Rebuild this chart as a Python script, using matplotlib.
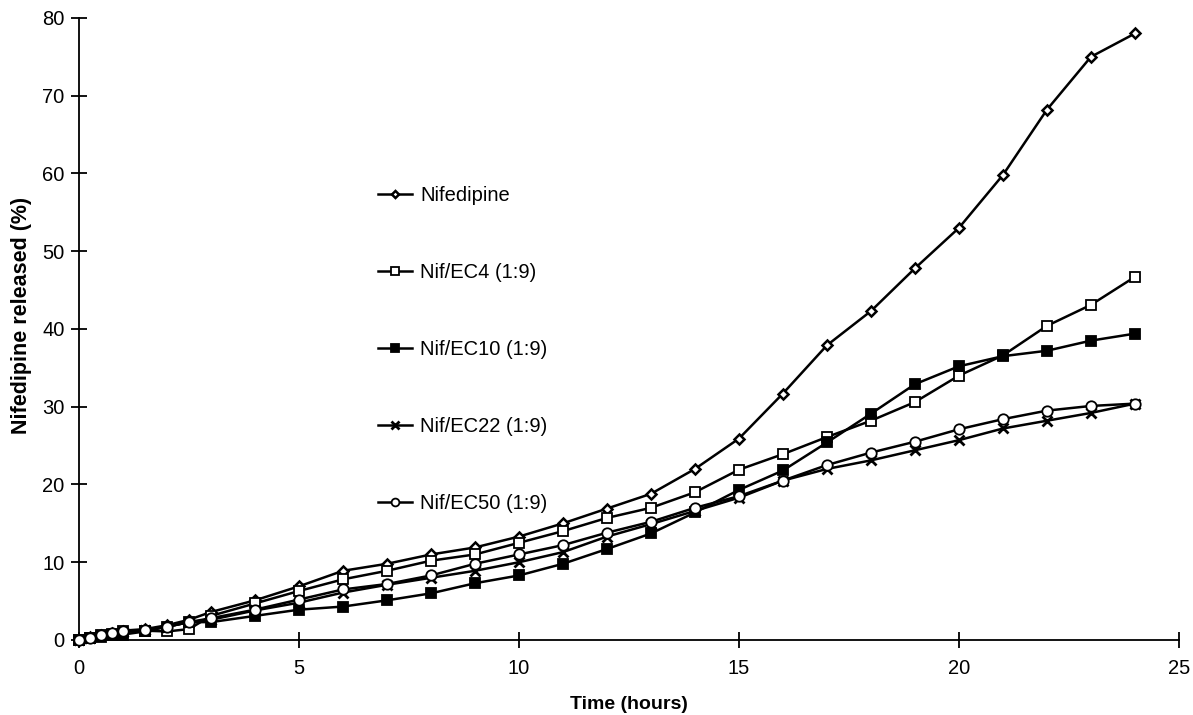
import matplotlib
matplotlib.use("Agg")
import matplotlib.pyplot as plt

time_h = [0, 0.25, 0.5, 0.75, 1, 1.5, 2, 2.5, 3, 4, 5, 6, 7, 8, 9, 10, 11, 12,
          13, 14, 15, 16, 17, 18, 19, 20, 21, 22, 23, 24]

nifedipine = [0, 0.4, 0.7, 0.9, 1.2, 1.4, 1.9, 2.6, 3.6, 5.1, 6.9, 8.9, 9.8, 11.0,
              11.9, 13.3, 15.0, 16.9, 18.8, 22.0, 25.9, 31.7, 37.9, 42.3, 47.8,
              53.0, 59.8, 68.2, 75.0, 78.0]
nif_ec4 = [0, 0.3, 0.6, 0.8, 1.1, 1.2, 1.1, 1.4, 3.1, 4.7, 6.3, 7.8, 8.9, 10.2,
           11.0, 12.5, 14.0, 15.7, 17.0, 19.0, 21.9, 23.9, 26.1, 28.2, 30.6,
           34.0, 36.6, 40.4, 43.1, 46.7]
nif_ec10 = [0, 0.2, 0.4, 0.6, 0.7, 1.1, 1.7, 2.3, 2.3, 3.1, 3.9, 4.3, 5.1, 6.0,
            7.3, 8.3, 9.8, 11.7, 13.7, 16.4, 19.3, 21.8, 25.4, 29.1, 32.9, 35.2,
            36.5, 37.2, 38.5, 39.4]
nif_ec22 = [0, 0.3, 0.6, 0.8, 1.0, 1.3, 1.7, 2.3, 2.6, 3.8, 4.8, 6.1, 7.1, 8.0,
            8.9, 10.0, 11.3, 13.3, 14.9, 16.6, 18.3, 20.5, 22.0, 23.1, 24.4, 25.7,
            27.2, 28.2, 29.2, 30.4]
nif_ec50 = [0, 0.3, 0.6, 0.9, 1.1, 1.3, 1.7, 2.3, 2.8, 3.9, 5.2, 6.5, 7.2, 8.3,
            9.8, 11.0, 12.2, 13.8, 15.2, 17.0, 18.5, 20.5, 22.5, 24.1, 25.5, 27.1,
            28.4, 29.5, 30.1, 30.4]

series_labels = ["Nifedipine", "Nif/EC4 (1:9)", "Nif/EC10 (1:9)",
                 "Nif/EC22 (1:9)", "Nif/EC50 (1:9)"]
x_ticks = [0, 5, 10, 15, 20, 25]
y_ticks = [0, 10, 20, 30, 40, 50, 60, 70, 80]

plt.rcParams['font.family'] = ['Liberation Sans', 'DejaVu Sans']

fig = plt.figure(figsize=(11.93, 7.15), dpi=100)
ax = fig.add_axes([0.0662, 0.1049, 0.922, 0.870])

styles = [
    dict(marker='D', markersize=4.8, markerfacecolor='white', markeredgewidth=1.8),
    dict(marker='s', markersize=7, markerfacecolor='white', markeredgewidth=1.3),
    dict(marker='s', markersize=7, markerfacecolor='black', markeredgewidth=1.3),
    dict(marker='x', markersize=7, markeredgewidth=2.0),
    dict(marker='o', markersize=7.5, markerfacecolor='white', markeredgewidth=1.3),
]
all_series = [nifedipine, nif_ec4, nif_ec10, nif_ec22, nif_ec50]
for ys, lab, st in zip(all_series, series_labels, styles):
    ax.plot(time_h, ys, color='black', linewidth=1.8, markeredgecolor='black',
            label=lab, clip_on=False, zorder=3, **st)

ax.set_xlim(0, 25)
ax.set_ylim(0, 80)
ax.set_xticks(x_ticks)
ax.set_yticks(y_ticks)
ax.spines['top'].set_visible(False)
ax.spines['right'].set_visible(False)
ax.spines['left'].set_linewidth(1.3)
ax.spines['bottom'].set_linewidth(1.3)
ax.tick_params(axis='both', direction='inout', length=11, width=1.3,
               labelsize=14.5)
ax.tick_params(axis='y', pad=5)
ax.tick_params(axis='x', pad=8)

ax.set_xlabel("Time (hours)", fontsize=14, fontweight='bold', labelpad=13)
ax.set_ylabel("Nifedipine released (%)", fontsize=15.5, fontweight='bold')
ax.yaxis.set_label_coords(-0.043, 0.521)

leg = ax.legend(loc='center left', bbox_to_anchor=(0.272, 0.467), frameon=False,
                borderpad=0, borderaxespad=0, labelspacing=2.88, handlelength=1.7,
                handletextpad=0.4, fontsize=14.5, markerscale=0.75)

fig.savefig("out.png", dpi=100)
